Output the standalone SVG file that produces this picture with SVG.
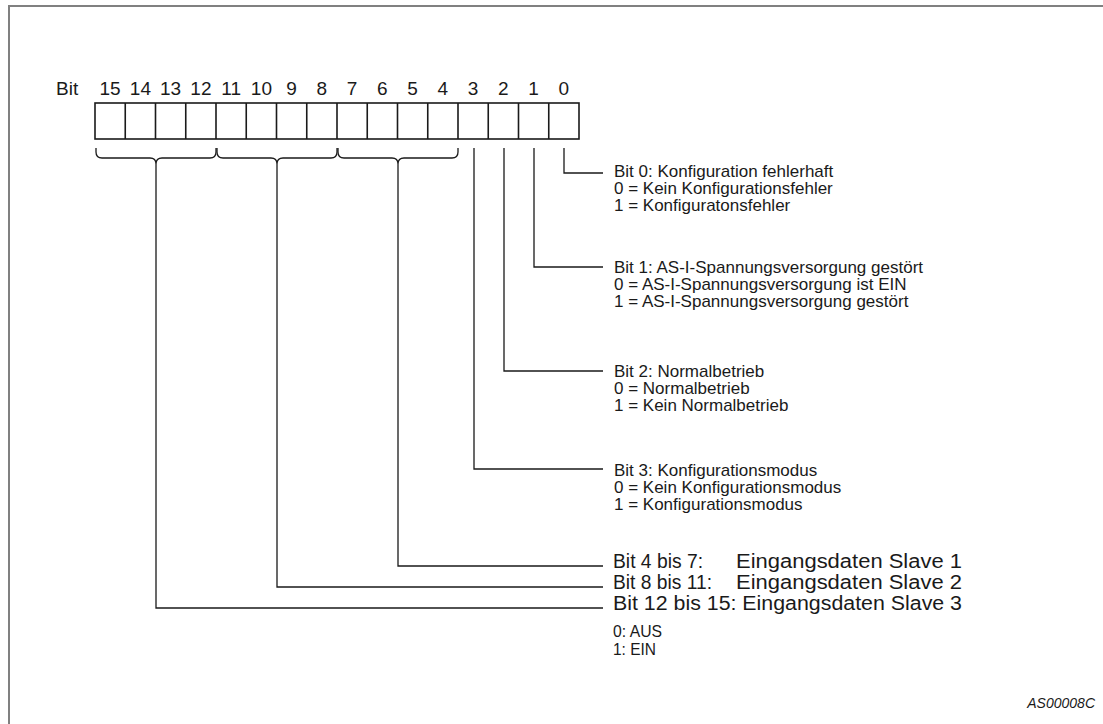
<svg xmlns="http://www.w3.org/2000/svg" width="1103" height="724" viewBox="0 0 1103 724">
<style>
text{font-family:"Liberation Sans",Arial,sans-serif;fill:#1a1a1a}
.t{font-size:17px}
.h{font-size:19px;text-anchor:middle}
.b{font-size:20px}
.s{font-size:17px}
.ln{fill:none;stroke:#1a1a1a;stroke-width:1.3}
.cell{fill:#fff;stroke:#1a1a1a;stroke-width:1.6}
</style>
<rect width="1103" height="724" fill="#fff"/>
<path d="M9,724 V6 H1103" fill="none" stroke="#808080" stroke-width="2"/>
<g id="register">
<text x="56" y="95" style="font-size:19px">Bit</text>
<text class="h" x="110.1" y="95">15</text><text class="h" x="140.4" y="95">14</text><text class="h" x="170.6" y="95">13</text><text class="h" x="200.9" y="95">12</text>
<text class="h" x="231.1" y="95">11</text><text class="h" x="261.4" y="95">10</text><text class="h" x="291.6" y="95">9</text><text class="h" x="321.9" y="95">8</text>
<text class="h" x="352.1" y="95">7</text><text class="h" x="382.4" y="95">6</text><text class="h" x="412.6" y="95">5</text><text class="h" x="442.9" y="95">4</text>
<text class="h" x="473.1" y="95">3</text><text class="h" x="503.4" y="95">2</text><text class="h" x="533.6" y="95">1</text><text class="h" x="563.9" y="95">0</text>
<rect class="cell" x="95" y="103" width="484" height="36"/>
<path class="ln" style="stroke-width:1.6" d="M125.25,103V139M155.5,103V139M185.75,103V139M216,103V139M246.25,103V139M276.5,103V139M306.75,103V139M337,103V139M367.25,103V139M397.5,103V139M427.75,103V139M458,103V139M488.25,103V139M518.5,103V139M548.75,103V139"/>
</g>
<g id="connectors">
<path class="ln" d="M96,148 v4 q0,6 6,6 H150 q6,0 6,6 q0,-6 6,-6 H210 q6,0 6,-6 v-4"/>
<path class="ln" d="M217,148 v4 q0,6 6,6 H271 q6,0 6,6 q0,-6 6,-6 H331 q6,0 6,-6 v-4"/>
<path class="ln" d="M338,148 v4 q0,6 6,6 H392 q6,0 6,6 q0,-6 6,-6 H452 q6,0 6,-6 v-4"/>
<path class="ln" d="M156,164 V608 H603"/>
<path class="ln" d="M277,164 V587 H603"/>
<path class="ln" d="M398,164 V566 H603"/>
<path class="ln" d="M474,148 V469 H603"/>
<path class="ln" d="M504,148 V371 H603"/>
<path class="ln" d="M534,148 V267 H603"/>
<path class="ln" d="M564,148 V173 H603"/>
</g>
<g id="bit0">
<text class="t" x="614" y="177">Bit 0: Konfiguration fehlerhaft</text>
<text class="t" x="614" y="194">0 = Kein Konfigurationsfehler</text>
<text class="t" x="614" y="211">1 = Konfiguratonsfehler</text>
</g>
<g id="bit1">
<text class="t" x="614" y="273">Bit 1: AS-I-Spannungsversorgung gestört</text>
<text class="t" x="614" y="290">0 = AS-I-Spannungsversorgung ist EIN</text>
<text class="t" x="614" y="307">1 = AS-I-Spannungsversorgung gestört</text>
</g>
<g id="bit2">
<text class="t" x="614" y="377">Bit 2: Normalbetrieb</text>
<text class="t" x="614" y="394">0 = Normalbetrieb</text>
<text class="t" x="614" y="411">1 = Kein Normalbetrieb</text>
</g>
<g id="bit3">
<text class="t" x="614" y="476">Bit 3: Konfigurationsmodus</text>
<text class="t" x="614" y="493">0 = Kein Konfigurationsmodus</text>
<text class="t" x="614" y="510">1 = Konfigurationsmodus</text>
</g>
<g id="slaves">
<text class="b" x="613" y="568" textLength="90" lengthAdjust="spacingAndGlyphs">Bit 4 bis 7:</text>
<text class="b" x="736" y="568" textLength="226" lengthAdjust="spacingAndGlyphs">Eingangsdaten Slave 1</text>
<text class="b" x="613" y="589" textLength="99" lengthAdjust="spacingAndGlyphs">Bit 8 bis 11:</text>
<text class="b" x="736" y="589" textLength="226" lengthAdjust="spacingAndGlyphs">Eingangsdaten Slave 2</text>
<text class="b" x="613" y="610" textLength="349" lengthAdjust="spacingAndGlyphs">Bit 12 bis 15: Eingangsdaten Slave 3</text>
<text class="s" x="613" y="637" textLength="49" lengthAdjust="spacingAndGlyphs">0: AUS</text>
<text class="s" x="613" y="655" textLength="43" lengthAdjust="spacingAndGlyphs">1: EIN</text>
</g>
<text x="1095" y="708" style="font-size:14px;font-style:italic;text-anchor:end">AS00008C</text>
</svg>
